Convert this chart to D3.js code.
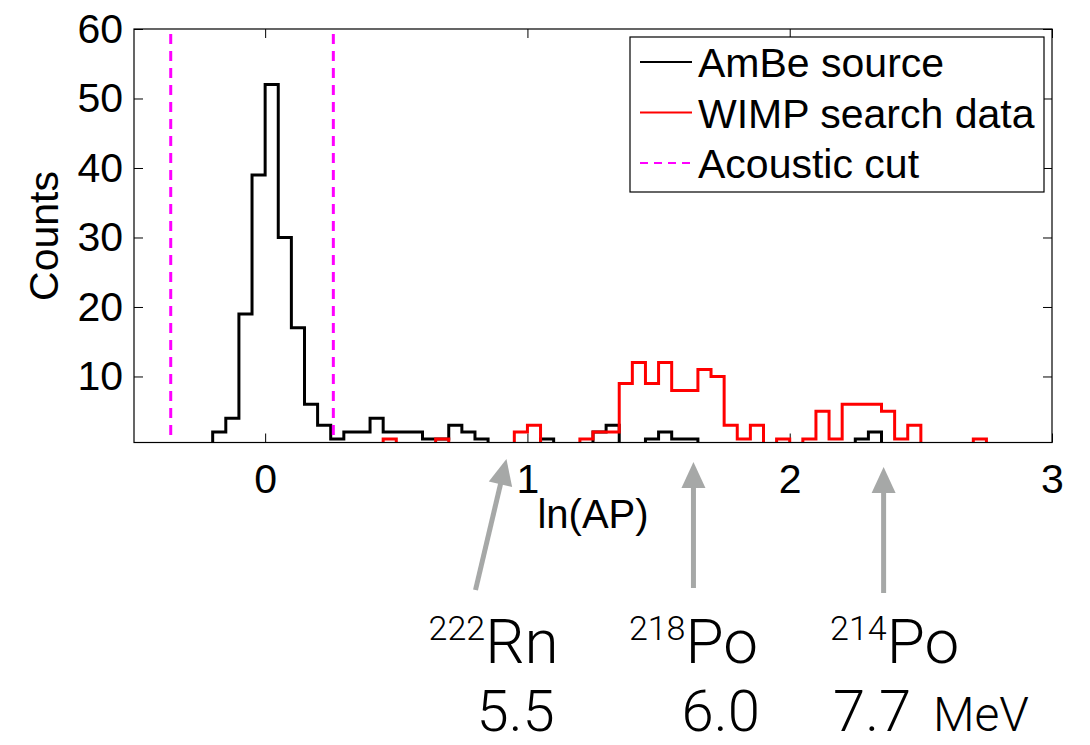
<!DOCTYPE html>
<html>
<head>
<meta charset="utf-8">
<script src="https://cdn.jsdelivr.net/npm/d3@7"></script>
<style>
  body { margin: 0; background: #fff; }
  svg text { font-family: "Liberation Sans", Arial, sans-serif; }
  .thin { font-family: "Helvetica Neue", Roboto, "Liberation Sans", sans-serif; font-weight: 300; }
</style>
</head>
<body>
<div id="chart"></div>
<script>
// bin lower edges, ln(AP), width 0.05
const binEdges = [-0.25, -0.2, -0.15, -0.1, -0.05, 0, 0.05, 0.1, 0.15, 0.2,
    0.25, 0.3, 0.35, 0.4, 0.45, 0.5, 0.55, 0.6, 0.65, 0.7,
    0.75, 0.8, 0.85, 0.9, 0.95, 1.0, 1.05, 1.1, 1.15, 1.2,
    1.25, 1.3, 1.35, 1.4, 1.45, 1.5, 1.55, 1.6, 1.65, 1.7,
    1.75, 1.8, 1.85, 1.9, 1.95, 2.0, 2.05, 2.1, 2.15, 2.2,
    2.25, 2.3, 2.35, 2.4, 2.45, 2.5, 2.55, 2.6, 2.65, 2.7,
    2.75, 2.8];
const binWidth = 0.05;

const ambeCounts = [0, 2, 4, 19, 39, 52, 30, 17, 6, 3,
    1, 2, 2, 4, 2, 2, 2, 1, 1, 3,
    2, 1, 0, 0, 0, 0, 1, 0, 0, 0,
    2, 3, 0, 0, 1, 2, 1, 1, 0, 0,
    0, 0, 0, 0, 0, 0, 0, 0, 0, 0,
    1, 2, 0, 0, 0, 0, 0, 0, 0, 0,
    0, 0];

const wimpCounts = [0, 0, 0, 0, 0, 0, 0, 0, 0, 0,
    0, 0, 0, 0, 1, 0, 0, 0, 1, 0,
    0, 0, 0, 0, 2, 3, 0, 0, 0, 1,
    2, 2, 9, 12, 9, 12, 8, 8, 11, 10,
    3, 1, 3, 0, 1, 0, 1, 5, 1, 6,
    6, 6, 5, 1, 3, 0, 0, 0, 0, 1,
    0, 0];

const cutLines = [-0.36, 0.26];

const xTicks = [0, 1, 2, 3];
const yTicks = [10, 20, 30, 40, 50, 60];

const legendItems = [
    {label: "AmBe source", color: "#000000", dash: null},
    {label: "WIMP search data", color: "#ff0000", dash: null},
    {label: "Acoustic cut", color: "#ff00ff", dash: "8,6"}
];

// isotope annotations, positions along ln(AP)
const isotopes = [
    {mass: "222", symbol: "Rn", energy: "5.5", tailX: 0.802, tipX: 0.92, nameX: 0.871, energyX: 0.955},
    {mass: "218", symbol: "Po", energy: "6.0", tailX: 1.633, tipX: 1.633, nameX: 1.633, energyX: 1.737},
    {mass: "214", symbol: "Po", energy: "7.7", tailX: 2.358, tipX: 2.358, nameX: 2.40, energyX: 2.314}
];
const arrowTailY = [590, 588, 593];
const arrowTipY = [459, 462, 467];

const width = 1090, height = 745;
const plot = {left: 134, right: 1052, top: 29, bottom: 442.5};

const svg = d3.select("#chart")
    .append("svg")
    .attr("width", width)
    .attr("height", height);

const x = d3.scaleLinear().domain([-0.5, 3]).range([plot.left, plot.right]);
const y = d3.scaleLinear().domain([0.5, 60]).range([plot.bottom, plot.top]);

svg.append("clipPath")
    .attr("id", "plotclip")
    .append("rect")
    .attr("x", plot.left)
    .attr("y", plot.top)
    .attr("width", plot.right - plot.left)
    .attr("height", plot.bottom - plot.top);

// ticks, inward on all four sides
const tickLen = 9;
function styleAxis(g) {
    g.select(".domain").remove();
    g.selectAll(".tick line").attr("stroke", "#000").attr("stroke-width", 1);
    g.selectAll("text").attr("font-size", "41px").attr("fill", "#000")
        .style("font-family", "'Liberation Sans', Arial, sans-serif");
}

svg.append("g")
    .attr("transform", "translate(0," + plot.bottom + ")")
    .call(d3.axisBottom(x).tickValues(xTicks).tickFormat(d3.format("d"))
        .tickSizeInner(-tickLen).tickSizeOuter(0).tickPadding(21))
    .call(styleAxis);

svg.append("g")
    .attr("transform", "translate(0," + plot.top + ")")
    .call(d3.axisTop(x).tickValues(xTicks).tickSizeInner(-tickLen).tickSizeOuter(0).tickFormat(""))
    .call(styleAxis);

svg.append("g")
    .attr("transform", "translate(" + plot.left + ",0)")
    .call(d3.axisLeft(y).tickValues(yTicks).tickSizeInner(-tickLen).tickSizeOuter(0).tickPadding(11))
    .call(styleAxis);

svg.append("g")
    .attr("transform", "translate(" + plot.right + ",0)")
    .call(d3.axisRight(y).tickValues(yTicks).tickSizeInner(-tickLen).tickSizeOuter(0).tickFormat(""))
    .call(styleAxis);

// histograms as stairs
const stairs = d3.line()
    .x(d => x(d[0]))
    .y(d => y(d[1]))
    .curve(d3.curveStepAfter);

function stairPoints(counts) {
    const pts = binEdges.map((e, i) => [e, counts[i]]);
    pts.push([binEdges[binEdges.length - 1] + binWidth, 0]);
    return pts;
}

const plotArea = svg.append("g").attr("clip-path", "url(#plotclip)");

plotArea.append("path")
    .attr("d", stairs(stairPoints(ambeCounts)))
    .attr("fill", "none")
    .attr("stroke", "#000")
    .attr("stroke-width", 3);

plotArea.append("path")
    .attr("d", stairs(stairPoints(wimpCounts)))
    .attr("fill", "none")
    .attr("stroke", "#ff0000")
    .attr("stroke-width", 3);

plotArea.selectAll(".cut")
    .data(cutLines)
    .enter()
    .append("line")
    .attr("class", "cut")
    .attr("x1", d => x(d))
    .attr("x2", d => x(d))
    .attr("y1", plot.top + 5)
    .attr("y2", plot.bottom)
    .attr("stroke", "#ff00ff")
    .attr("stroke-width", 3)
    .attr("stroke-dasharray", "10,7");

// frame
svg.append("rect")
    .attr("x", plot.left)
    .attr("y", plot.top)
    .attr("width", plot.right - plot.left)
    .attr("height", plot.bottom - plot.top)
    .attr("fill", "none")
    .attr("stroke", "#000")
    .attr("stroke-width", 1.2);

// axis labels
svg.append("text")
    .attr("x", (plot.left + plot.right) / 2)
    .attr("y", 528)
    .attr("text-anchor", "middle")
    .attr("font-size", "40px")
    .text("ln(AP)");

svg.append("text")
    .attr("transform", "translate(58,236) rotate(-90)")
    .attr("text-anchor", "middle")
    .attr("font-size", "41px")
    .text("Counts");

// legend
const legend = svg.append("g");
legend.append("rect")
    .attr("x", 630)
    .attr("y", 37)
    .attr("width", 414)
    .attr("height", 155)
    .attr("fill", "#fff")
    .attr("stroke", "#000")
    .attr("stroke-width", 1.2);

const rows = legend.selectAll(".row")
    .data(legendItems)
    .enter()
    .append("g")
    .attr("class", "row")
    .attr("transform", (d, i) => "translate(0," + (62 + i * 50.5) + ")");

rows.append("line")
    .attr("x1", 640)
    .attr("x2", 692)
    .attr("stroke", d => d.color)
    .attr("stroke-width", 2)
    .attr("stroke-dasharray", d => d.dash);

rows.append("text")
    .attr("x", 698)
    .attr("y", 15)
    .attr("font-size", "41px")
    .text(d => d.label);

// isotope arrows and labels
const arrowColor = "#a6a8a7";
const notes = svg.append("g");

isotopes.forEach(function (d, i) {
    const x0 = x(d.tailX), y0 = arrowTailY[i];
    const x1 = x(d.tipX), y1 = arrowTipY[i];
    const len = Math.hypot(x1 - x0, y1 - y0);
    const ux = (x1 - x0) / len, uy = (y1 - y0) / len;
    const headLen = 26, headHalf = 12;
    const bx = x1 - ux * headLen, by = y1 - uy * headLen;

    notes.append("line")
        .attr("x1", x0).attr("y1", y0)
        .attr("x2", bx + ux * 2).attr("y2", by + uy * 2)
        .attr("stroke", arrowColor)
        .attr("stroke-width", 5);

    notes.append("path")
        .attr("d", "M" + x1 + "," + y1 +
            "L" + (bx - uy * headHalf) + "," + (by + ux * headHalf) +
            "L" + (bx + uy * headHalf) + "," + (by - ux * headHalf) + "Z")
        .attr("fill", arrowColor);

    const name = notes.append("text")
        .attr("class", "thin")
        .attr("x", x(d.nameX))
        .attr("y", 663)
        .attr("text-anchor", "middle")
        .attr("font-size", "62px");
    name.append("tspan")
        .attr("font-size", "34px")
        .attr("dy", -23)
        .text(d.mass);
    name.append("tspan")
        .attr("dy", 23)
        .text(d.symbol);

    notes.append("text")
        .attr("class", "thin")
        .attr("x", x(d.energyX))
        .attr("y", 731)
        .attr("text-anchor", "middle")
        .attr("font-size", "58px")
        .text(d.energy);
});

notes.append("text")
    .attr("class", "thin")
    .attr("x", 933)
    .attr("y", 731)
    .attr("font-size", "48px")
    .text("MeV");
</script>
</body>
</html>
